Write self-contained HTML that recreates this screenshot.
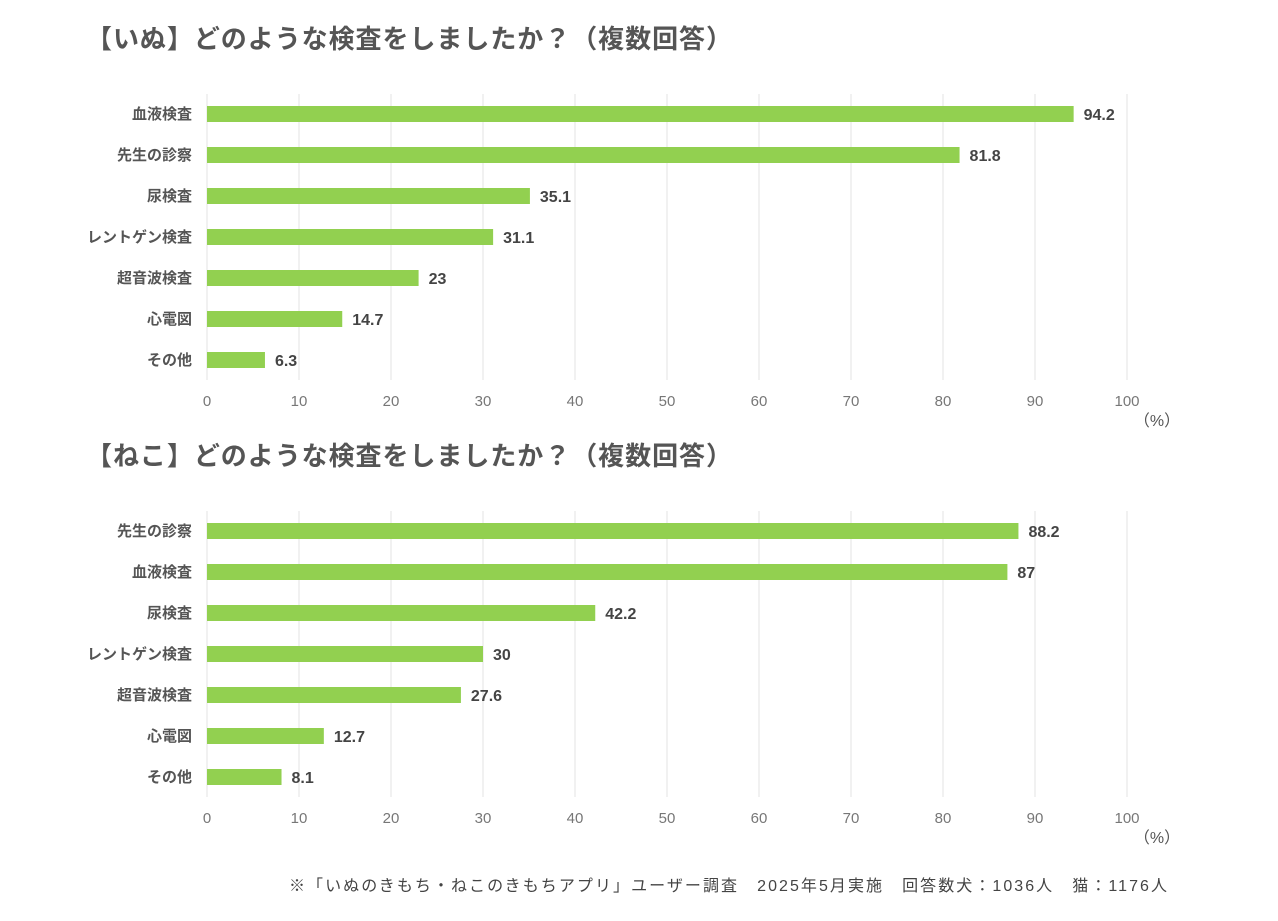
<!DOCTYPE html>
<html><head><meta charset="utf-8">
<style>
body{margin:0;background:#fff;width:1278px;height:916px;overflow:hidden;font-family:"Liberation Sans","Noto Sans CJK JP",sans-serif;}
svg text{font-family:"Liberation Sans","Noto Sans CJK JP",sans-serif;}
</style></head>
<body>
<svg id="chart" width="1278" height="916">
<text x="86" y="48" font-size="26" font-weight="bold" fill="#555" textLength="646" lengthAdjust="spacing">【いぬ】どのような検査をしましたか？（複数回答）</text>
<text x="86" y="465" font-size="26" font-weight="bold" fill="#555" textLength="646" lengthAdjust="spacing">【ねこ】どのような検査をしましたか？（複数回答）</text>
<text x="289" y="891" font-size="16" fill="#444" textLength="878" lengthAdjust="spacing">※「いぬのきもち・ねこのきもちアプリ」ユーザー調査　2025年5月実施　回答数犬：1036人　猫：1176人</text>
</svg>
<script>
const dogCategories=["血液検査","先生の診察","尿検査","レントゲン検査","超音波検査","心電図","その他"];
const dogValues=[94.2,81.8,35.1,31.1,23,14.7,6.3];
const catCategories=["先生の診察","血液検査","尿検査","レントゲン検査","超音波検査","心電図","その他"];
const catValues=[88.2,87,42.2,30,27.6,12.7,8.1];
const tickLabels=[0,10,20,30,40,50,60,70,80,90,100];
const NS="http://www.w3.org/2000/svg";
const svg=document.getElementById('chart');
const x0=207,x1=1127;
function xs(v){return x0+(x1-x0)*v/100;}
function mk(tag,attrs,parent){const e=document.createElementNS(NS,tag);for(const k in attrs)e.setAttribute(k,attrs[k]);(parent||svg).appendChild(e);return e;}
function drawChart(prefix,cats,vals,top){
  const g=mk('g',{});
  
  
  const gTop=top-20,gBot=top+266;
  tickLabels.forEach(t=>{
    const l=mk('line',{x1:xs(t),x2:xs(t),y1:gTop,y2:gBot,stroke:'#e3e3e3','stroke-width':1},g);
    
    
    const tx=mk('text',{x:xs(t),y:gBot+26,'font-size':15,fill:'#777','text-anchor':'middle'},g);
    tx.textContent=t;
    
    
  });
  const pc=mk('text',{x:1157,y:gBot+46,'font-size':16,fill:'#555','text-anchor':'middle'},g);
  pc.textContent='（%）';
  
  
  cats.forEach((c,i)=>{
    const cy=top+i*41;
    const b=mk('rect',{x:x0,y:cy-8,width:xs(vals[i])-x0,height:16,fill:'#92d050'},g);
    
    
    const lb=mk('text',{x:192,y:cy+5,'font-size':15,'font-weight':'bold',fill:'#555','text-anchor':'end'},g);
    lb.textContent=c;
    
    
    const vl=mk('text',{x:xs(vals[i])+10,y:cy+6,'font-size':16,'font-weight':'bold',fill:'#444'},g);
    vl.textContent=vals[i];
    
    
  });
}
drawChart('dog',dogCategories,dogValues,114);
drawChart('cat',catCategories,catValues,531);
</script>
</body></html>
